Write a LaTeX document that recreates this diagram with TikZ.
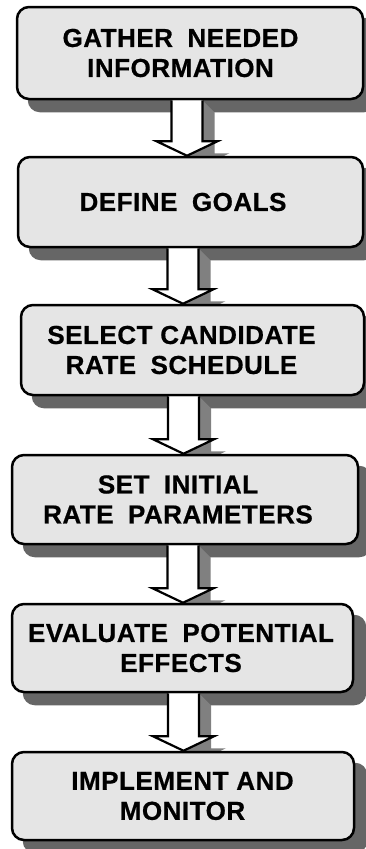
\documentclass[tikz,border=0pt]{standalone}
\usepackage{fontspec}
\setmainfont{Liberation Sans}[LetterSpace=2, BoldFeatures={FakeBold=0.6}]
\usetikzlibrary{calc}
\pgfdeclarelayer{background}
\pgfsetlayers{background,main}
\definecolor{boxfill}{RGB}{229,229,229}
\definecolor{boxshade}{RGB}{102,102,102}
\definecolor{arrowshade}{RGB}{128,128,128}
\newcommand\twosp{\hspace{0.556em}}
\tikzset{
  stepbox/.style={draw=black, line width=2.5pt, fill=boxfill, rounded corners=12pt, inner sep=0pt},
  steptext/.style={font=\fontsize{26}{30}\selectfont\bfseries, align=center, inner sep=0pt},
  boxshadow/.style={fill=boxshade, rounded corners=12pt},
  arrowbody/.style={draw=black, line width=2.2pt, line join=miter},
  arrowshadow/.style={fill=arrowshade},
}
% block arrow from the bottom of #1 to the top of #2, centred at x = #3
\newcommand\flowarrow[3]{%
  \begin{pgfonlayer}{background}
    \fill[arrowshadow] let \p1=(#1.south), \p2=(#2.north) in
      ({#3pt+15.5pt},{\y1}) -- ({#3pt+27.5pt},{\y1-12pt}) -- ({#3pt+27.5pt},{\y2+2.5pt})
      -- ({#3pt+42.5pt},{\y2+2.5pt}) -- ({#3pt+12pt},{\y2-12pt}) -- ({#3pt},{\y2})
      -- ({#3pt+30.5pt},{\y2+14.5pt}) -- ({#3pt+15.5pt},{\y2+14.5pt}) -- cycle;
  \end{pgfonlayer}
  \fill[white] let \p1=(#1.south), \p2=(#2.north) in
    ({#3pt-15.5pt},{\y1}) -- ({#3pt-15.5pt},{\y2+14.5pt}) -- ({#3pt-30.5pt},{\y2+14.5pt})
    -- ({#3pt},{\y2}) -- ({#3pt+30.5pt},{\y2+14.5pt}) -- ({#3pt+15.5pt},{\y2+14.5pt})
    -- ({#3pt+15.5pt},{\y1}) -- cycle;
  \draw[arrowbody] let \p1=(#1.south), \p2=(#2.north) in
    ({#3pt-15.5pt},{\y1}) -- ({#3pt-15.5pt},{\y2+14.5pt}) -- ({#3pt-30.5pt},{\y2+14.5pt})
    -- ({#3pt},{\y2}) -- ({#3pt+30.5pt},{\y2+14.5pt}) -- ({#3pt+15.5pt},{\y2+14.5pt})
    -- ({#3pt+15.5pt},{\y1});
}
\begin{document}
\begin{tikzpicture}[x=1pt,y=-1pt]
\useasboundingbox (0,0) rectangle (365,849);

% process steps
\node[stepbox, minimum width=346pt, minimum height=92pt] (b1) at (190,53) {};
\node[stepbox, minimum width=345pt, minimum height=90pt] (b2) at (190.5,202) {};
\node[stepbox, minimum width=343pt, minimum height=90pt] (b3) at (192.5,350) {};
\node[stepbox, minimum width=346pt, minimum height=89pt] (b4) at (185,499.5) {};
\node[stepbox, minimum width=341pt, minimum height=88pt] (b5) at (182.5,648) {};
\node[stepbox, minimum width=342pt, minimum height=88pt] (b6) at (183,796) {};

\node[steptext] (t1) at (180.5,53) {GATHER\twosp NEEDED\\INFORMATION};
\node[steptext] (t2) at (183,202) {DEFINE\twosp GOALS};
\node[steptext] (t3) at (181.5,350) {SELECT CANDIDATE\\RATE\twosp SCHEDULE};
\node[steptext] (t4) at (178,499.5) {SET\twosp INITIAL\\RATE\twosp PARAMETERS};
\node[steptext] (t5) at (181,648) {EVALUATE\twosp POTENTIAL\\EFFECTS};
\node[steptext] (t6) at (182.5,796) {IMPLEMENT AND\\MONITOR};

% drop shadows of the steps
\begin{pgfonlayer}{background}
  \foreach \b in {b1,b2,b3,b4,b5,b6}
    \fill[boxshadow] ($(\b.north west)+(12,12)$) rectangle ($(\b.south east)+(12,12)$);
\end{pgfonlayer}

% arrows between steps
\flowarrow{b1}{b2}{187}
\flowarrow{b2}{b3}{183}
\flowarrow{b3}{b4}{183.5}
\flowarrow{b4}{b5}{183}
\flowarrow{b5}{b6}{183.5}
\end{tikzpicture}
\end{document}
